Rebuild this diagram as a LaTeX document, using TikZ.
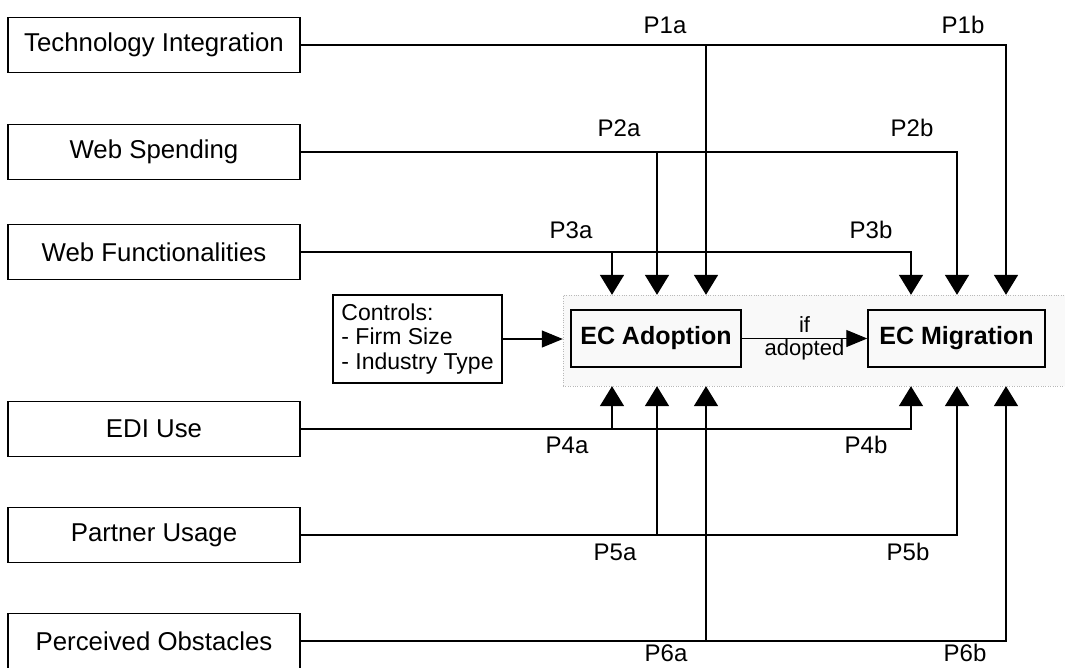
\documentclass[tikz,border=0pt]{standalone}
\usepackage{fontspec}
\setmainfont{Liberation Sans}
\usetikzlibrary{arrows.meta}

\tikzset{
  factor/.style={draw, line width=1.2pt, minimum width=292pt, minimum height=55pt, font=\fontsize{25.8}{30}\selectfont},
  stage/.style={draw, line width=1.5pt, minimum height=57pt, font=\bfseries\fontsize{25}{30}\selectfont},
  plabel/.style={font=\fontsize{24}{28}\selectfont},
  link/.style={line width=1.8pt},
  prop/.style={link, -{Triangle[length=20pt,width=24pt]}},
  flow/.style={line width=1.2pt, -{Triangle[length=21pt,width=17pt]}},
}

\begin{document}
\begin{tikzpicture}[x=1pt, y=-1pt]
  \useasboundingbox (0,0) rectangle (1065,667);
  \node[draw=gray!55, dotted, fill=gray!5, minimum width=512pt, minimum height=91pt] (core) at (819,340.5) {};

  \node[factor] (techint) at (154,45) {Technology Integration};
  \node[factor] (webspend) at (154,152) {Web Spending};
  \node[factor] (webfunc) at (154,252) {Web Functionalities};
  \node[factor] (ediuse) at (154,429) {EDI Use};
  \node[factor] (partner) at (154,535) {Partner Usage};
  \node[factor] (obstacles) at (154,641) {Perceived Obstacles};

  \node[draw, line width=1.2pt, align=left, minimum width=169pt, minimum height=88pt, inner sep=3pt,
    font=\fontsize{23}{24.5}\selectfont] (controls) at (417.5,339) {Controls:\\- Firm Size\\- Industry Type};
  \node[stage, minimum width=170pt] (adopt) at (656,338.5) {EC Adoption};
  \node[stage, minimum width=177pt] (migrate) at (956.5,338.5) {EC Migration};

  \coordinate (ca1) at (612,0);
  \coordinate (ca2) at (657,0);
  \coordinate (ca3) at (706,0);
  \coordinate (cb1) at (911,0);
  \coordinate (cb2) at (957,0);
  \coordinate (cb3) at (1006,0);

  \draw[prop] (techint.east) -| (core.north -| cb3);
  \draw[prop] (techint.east -| ca3) -- (core.north -| ca3);
  \draw[prop] (webspend.east) -| (core.north -| cb2);
  \draw[prop] (webspend.east -| ca2) -- (core.north -| ca2);
  \draw[prop] (webfunc.east) -| (core.north -| cb1);
  \draw[prop] (webfunc.east -| ca1) -- (core.north -| ca1);

  \draw[prop] (ediuse.east) -| (core.south -| cb1);
  \draw[prop] (ediuse.east -| ca1) -- (core.south -| ca1);
  \draw[prop] (partner.east) -| (core.south -| cb2);
  \draw[prop] (partner.east -| ca2) -- (core.south -| ca2);
  \draw[prop] (obstacles.east) -| (core.south -| cb3);
  \draw[prop] (obstacles.east -| ca3) -- (core.south -| ca3);

  \draw[flow] (controls.east) -- (core.west |- controls.east);
  \draw[flow] (adopt.east) -- (migrate.west)
    node[midway, above, inner sep=5pt, font=\fontsize{22}{26}\selectfont] (condif) {if}
    node[midway, below, inner sep=0.5pt, font=\fontsize{22}{26}\selectfont] (condadopted) {adopted};

  \node[plabel] (l1a) at (665,25) {P1a};
  \node[plabel] (l1b) at (963,25) {P1b};
  \node[plabel] (l2a) at (619,128) {P2a};
  \node[plabel] (l2b) at (912,128) {P2b};
  \node[plabel] (l3a) at (571,230) {P3a};
  \node[plabel] (l3b) at (871,230) {P3b};
  \node[plabel] (l4a) at (567,445) {P4a};
  \node[plabel] (l4b) at (866,445) {P4b};
  \node[plabel] (l5a) at (615,552) {P5a};
  \node[plabel] (l5b) at (908,552) {P5b};
  \node[plabel] (l6a) at (666,653) {P6a};
  \node[plabel] (l6b) at (965,653) {P6b};
\end{tikzpicture}
\end{document}
